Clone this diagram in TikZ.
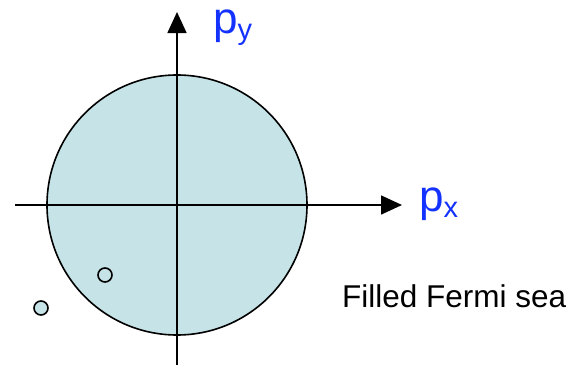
\documentclass[tikz,border=0pt]{standalone}
\usepackage{fontspec}
\setmainfont{Liberation Sans}
\usetikzlibrary{arrows.meta}
\definecolor{seablue}{RGB}{198,228,232}
\definecolor{labelblue}{RGB}{20,50,255}
\tikzset{
  axis/.style={line width=1.6pt,-{Triangle[length=21pt,width=19pt]}},
  hole/.style={line width=1.6pt,fill=seablue},
  plabel/.style={text=labelblue,font=\fontsize{44}{44}\selectfont,inner sep=0pt,
    text height=0.55em,anchor=base west}
}
\begin{document}
\begin{tikzpicture}[x=1pt,y=-1pt]
\useasboundingbox (0,0) rectangle (568,367);
\fill[seablue] (177,205) circle (130);
\coordinate (xs) at (15,205);
\coordinate (xe) at (402,205);
\coordinate (ys) at (177,365);
\coordinate (ye) at (177,12);
\draw[axis] (xs) -- (xe);
\draw[axis] (ys) -- (ye);
\draw[line width=1.6pt] (177,205) circle (130);
\draw[hole] (105,275) circle (7);
\draw[hole] (41,308) circle (7);
\node[plabel] (px) at (419,211) {p\textsubscript{\fontsize{29}{29}\selectfont x}};
\node[plabel] (py) at (213,33) {p\textsubscript{\fontsize{29}{29}\selectfont y}};
\node[font=\fontsize{31.5}{31.5}\selectfont,inner sep=0pt,anchor=base west] (sea) at (342,307) {Filled Fermi sea};
\end{tikzpicture}
\end{document}
